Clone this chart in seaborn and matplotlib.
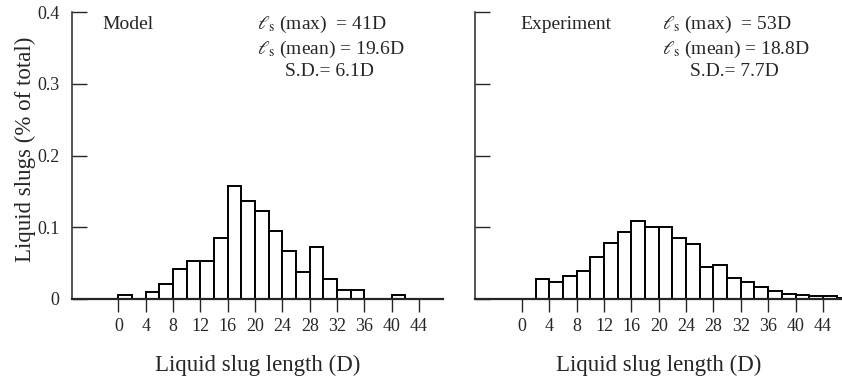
import matplotlib
matplotlib.use("Agg")
import matplotlib.pyplot as plt
import numpy as np
import pandas as pd
import seaborn as sns

# Histogram data (bin width 2D, left edges)
model_left = [0, 2, 4, 6, 8, 10, 12, 14, 16, 18, 20, 22, 24, 26, 28, 30, 32, 34, 36, 38, 40]
model_freq = [0.005, 0.0, 0.010, 0.021, 0.042, 0.053, 0.053, 0.085, 0.158, 0.137, 0.123,
              0.095, 0.067, 0.038, 0.072, 0.028, 0.013, 0.013, 0.0, 0.0, 0.006]

exp_left = [2, 4, 6, 8, 10, 12, 14, 16, 18, 20, 22, 24, 26, 28, 30, 32, 34, 36, 38, 40, 42, 44, 46]
exp_freq = [0.028, 0.024, 0.032, 0.039, 0.059, 0.078, 0.094, 0.109, 0.101, 0.100, 0.085,
            0.077, 0.044, 0.048, 0.029, 0.024, 0.017, 0.011, 0.007, 0.0055, 0.0045, 0.0035, 0.002]

xticks = list(range(0, 48, 4))
yticks = [0, 0.1, 0.2, 0.3, 0.4]
ytick_labels = ["0", "0.1", "0.2", "0.3", "0.4"]

model_text = [r"$\ell_{\rm s}$ (max)  = 41D", r"$\ell_{\rm s}$ (mean) = 19.6D", "S.D.= 6.1D"]
exp_text = [r"$\ell_{\rm s}$ (max)  = 53D", r"$\ell_{\rm s}$ (mean) = 18.8D", "S.D.= 7.7D"]

sns.set_style("ticks")
plt.rcParams["font.family"] = ["Liberation Serif", "DejaVu Serif"]
plt.rcParams["mathtext.fontset"] = "stix"

fig = plt.figure(figsize=(8.42, 3.8), dpi=100)
ax1 = fig.add_axes([0.0855, 0.2132, 0.4406, 0.755])
ax2 = fig.add_axes([0.564, 0.2132, 0.436, 0.755])


def draw_panel(ax, left, freq, label, stats, xlim, label_x, stats_x, sd_x):
    df = pd.DataFrame({"center": np.array(left, dtype=float) + 1, "freq": freq})
    sns.histplot(
        data=df,
        x="center",
        weights="freq",
        binwidth=2,
        binrange=(left[0], left[-1] + 2),
        stat="count",
        color="white",
        edgecolor="black",
        linewidth=1.4,
        alpha=1,
        ax=ax,
    )
    ax.set_xlim(*xlim)
    ax.set_ylim(0, 0.4)
    ax.set_xticks(xticks)
    ax.set_yticks(yticks)
    ax.set_ylabel("")
    ax.set_xlabel("Liquid slug length (D)", fontsize=16.5)
    ax.xaxis.set_label_coords(0.5, -0.195)

    sns.despine(ax=ax)
    ax.spines["left"].set_linewidth(1.1)
    ax.spines["bottom"].set_linewidth(1.6)
    ax.tick_params(axis="y", direction="in", length=11, width=1.0, labelsize=13, pad=9)
    ax.tick_params(axis="x", direction="out", length=9, width=1.0, labelsize=13, pad=5)

    ax.text(label_x, 0.376, label, fontsize=14, ha="left", va="baseline")
    ax.text(stats_x, 0.376, stats[0], fontsize=14, ha="left", va="baseline")
    ax.text(stats_x, 0.342, stats[1], fontsize=14, ha="left", va="baseline")
    ax.text(sd_x, 0.311, stats[2], fontsize=14, ha="left", va="baseline")


draw_panel(ax1, model_left, model_freq, "Model", model_text, (-6.8, 47.5), -2.4, 20.3, 24.4)
draw_panel(ax2, exp_left, exp_freq, "Experiment", exp_text, (-6.9, 46.8), -0.3, 20.5, 24.6)

ax1.set_yticklabels(ytick_labels)
ax2.set_yticklabels([])
ax1.set_ylabel("Liquid slugs (% of total)", fontsize=16.5)
ax1.yaxis.set_label_coords(-0.097, 0.52)

fig.savefig("out.png", dpi=100)
